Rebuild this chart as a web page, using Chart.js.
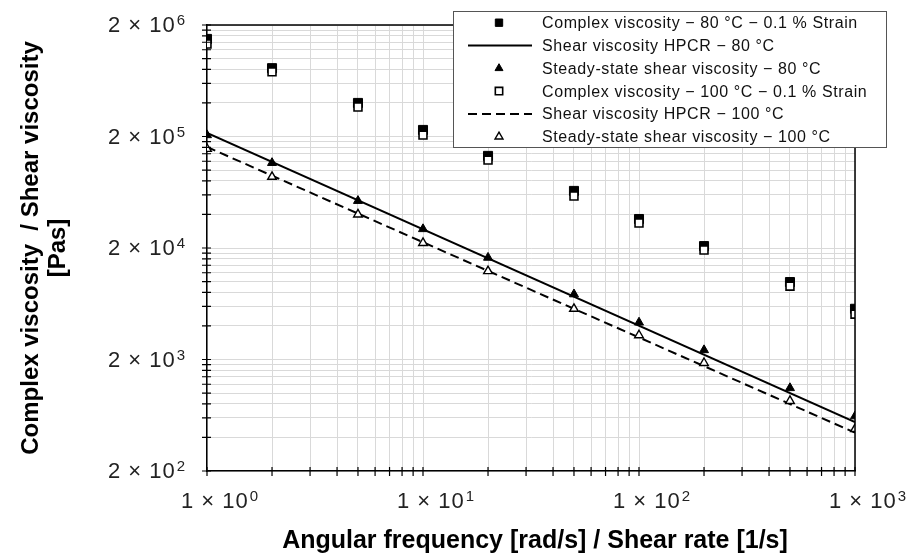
<!DOCTYPE html>
<html><head><meta charset="utf-8">
<script src="https://cdn.jsdelivr.net/npm/chart.js@4/dist/chart.umd.min.js"></script>
<style>html,body{margin:0;padding:0;background:#fff;} #wrap{width:910px;height:554px;position:relative;}</style>
</head><body><div id="wrap"><canvas id="c" width="910" height="554"></canvas></div>
<script>
// ---- data ----
const frequency   = [1, 2, 5, 10, 20, 50, 100, 200, 500, 1000];
const complex80   = [1.50e6, 8.2e5, 4.0e5, 2.29e5, 1.34e5, 6.5e4, 3.64e4, 2.08e4, 9.9e3, 5.7e3];
const complex100  = [1.35e6, 7.6e5, 3.68e5, 2.06e5, 1.23e5, 5.85e4, 3.35e4, 1.92e4, 9.1e3, 5.1e3];
const steady80    = [2.06e5, 1.16e5, 5.3e4, 2.96e4, 1.64e4, 7.7e3, 4.3e3, 2.43e3, 1.11e3, 620];
const steady100   = [1.55e5, 8.7e4, 4.0e4, 2.22e4, 1.24e4, 5.7e3, 3.3e3, 1.86e3, 850, 476];
const hpcrRate    = [1, 1000];
const hpcr80      = [2.15e5, 550];
const hpcr100     = [1.61e5, 441];
const seriesLabels = [
  'Complex viscosity − 80 °C − 0.1 % Strain',
  'Shear viscosity HPCR − 80 °C',
  'Steady-state shear viscosity − 80 °C',
  'Complex viscosity − 100 °C − 0.1 % Strain',
  'Shear viscosity HPCR − 100 °C',
  'Steady-state shear viscosity − 100 °C'
];
const xGridValues = [1,2,3,4,5,6,7,8,9,10,20,30,40,50,60,70,80,90,100,200,300,400,500,600,700,800,900,1000];
const yGridValues = [200,400,600,800,1000,1200,1400,1600,1800,2000,4000,6000,8000,10000,12000,14000,16000,18000,20000,
  40000,60000,80000,100000,120000,140000,160000,180000,200000,400000,600000,800000,1000000,1200000,1400000,1600000,1800000,2000000];
const xMajorTicks = [1, 10, 100, 1000];
const xTickLabels = [['1 × 10', '0'], ['1 × 10', '1'], ['1 × 10', '2'], ['1 × 10', '3']];
const yMajorTicks = [200, 2000, 20000, 200000, 2000000];
const yTickLabels = [['2 × 10', '2'], ['2 × 10', '3'], ['2 × 10', '4'], ['2 × 10', '5'], ['2 × 10', '6']];
const xTitle = 'Angular frequency [rad/s] / Shear rate [1/s]';
const yTitle = ['Complex viscosity  / Shear viscosity', '[Pas]'];

const pts = (xs, ys) => xs.map((x, i) => ({x, y: ys[i]}));
const FONT = '"Liberation Sans", Arial, sans-serif';

const datasets = [
  {label: seriesLabels[0], data: pts(frequency, complex80), showLine: false, pointStyle: 'rect', pointRadius: 6.4,
   backgroundColor: '#000', borderColor: '#000', pointBorderWidth: 1, order: 2},
  {label: seriesLabels[1], data: pts(hpcrRate, hpcr80), showLine: true, pointRadius: 0, borderColor: '#000',
   borderWidth: 2, backgroundColor: '#000', order: 4},
  {label: seriesLabels[2], data: pts(frequency, steady80), showLine: false, pointStyle: 'triangle', pointRadius: 5.2,
   backgroundColor: '#000', borderColor: '#000', pointBorderWidth: 1, order: 3},
  {label: seriesLabels[3], data: pts(frequency, complex100), showLine: false, pointStyle: 'rect', pointRadius: 5.6,
   backgroundColor: '#fff', borderColor: '#000', pointBorderWidth: 1.6, order: 0},
  {label: seriesLabels[4], data: pts(hpcrRate, hpcr100), showLine: true, pointRadius: 0, borderColor: '#000',
   borderWidth: 2, borderDash: [9, 5], backgroundColor: '#000', order: 5},
  {label: seriesLabels[5], data: pts(frequency, steady100), showLine: false, pointStyle: 'triangle', pointRadius: 5,
   backgroundColor: '#fff', borderColor: '#000', pointBorderWidth: 1.4, order: 1}
];

function supLabel(ctx, base, exp, x, baseline, align) {
  ctx.font = '22px ' + FONT;
  ctx.letterSpacing = '1px';
  const bw = ctx.measureText(base).width;
  ctx.font = '15px ' + FONT;
  ctx.letterSpacing = '0px';
  const ew = ctx.measureText(exp).width;
  let left = align === 'right' ? x - bw - ew - 1 : x;
  ctx.textAlign = 'left';
  ctx.textBaseline = 'alphabetic';
  ctx.font = '22px ' + FONT;
  ctx.letterSpacing = '1px';
  ctx.fillText(base, left, baseline);
  ctx.font = '15px ' + FONT;
  ctx.letterSpacing = '0px';
  ctx.fillText(exp, left + bw + 1, baseline - 7);
}

const frame = {
  id: 'frame',
  afterDatasetsDraw(chart) {
    const {ctx, chartArea: a, scales} = chart;
    ctx.save();
    ctx.strokeStyle = '#000';
    ctx.lineWidth = 1.5;
    ctx.beginPath();
    ctx.moveTo(a.left, a.top); ctx.lineTo(a.right, a.top); ctx.lineTo(a.right, a.bottom);
    ctx.stroke();
    ctx.lineWidth = 1.2;
    ctx.beginPath();
    scales.x.ticks.forEach(t => { const p = scales.x.getPixelForValue(t.value); ctx.moveTo(p, a.bottom - 4); ctx.lineTo(p, a.bottom + 5); });
    scales.y.ticks.forEach(t => { const p = scales.y.getPixelForValue(t.value); ctx.moveTo(a.left - 5, p); ctx.lineTo(a.left + 4, p); });
    ctx.stroke();
    // tick labels
    ctx.fillStyle = '#222';
    yMajorTicks.forEach((v, k) => {
      const p = scales.y.getPixelForValue(v);
      supLabel(ctx, yTickLabels[k][0], yTickLabels[k][1], a.left - 22, p + 7, 'right');
    });
    xMajorTicks.forEach((v, k) => {
      const p = scales.x.getPixelForValue(v);
      supLabel(ctx, xTickLabels[k][0], xTickLabels[k][1], p - 26, a.bottom + 37, 'left');
    });
    // axis titles
    ctx.fillStyle = '#000';
    ctx.letterSpacing = '0px';
    ctx.font = 'bold 25px ' + FONT;
    ctx.textAlign = 'center';
    ctx.textBaseline = 'alphabetic';
    ctx.fillText(xTitle, 535, 548);
    ctx.font = 'bold 24px ' + FONT;
    ctx.textBaseline = 'middle';
    ctx.translate(0, 248);
    ctx.rotate(-Math.PI / 2);
    ctx.fillText(yTitle[0], 0, 31);
    ctx.fillText(yTitle[1], 0, 58);
    ctx.restore();
  },
  afterDraw(chart) {
    const {ctx} = chart;
    ctx.save();
    const bx = 453, by = 11, bw = 433, bh = 136;
    ctx.fillStyle = '#fff';
    ctx.fillRect(bx, by, bw, bh);
    ctx.strokeStyle = '#555';
    ctx.lineWidth = 1;
    ctx.strokeRect(bx + 0.5, by + 0.5, bw, bh);
    const rowY0 = 22.7, rowH = 22.8, mx = 499;
    chart.data.datasets.forEach((ds, i) => {
      const y = rowY0 + i * rowH;
      if (ds.showLine) {
        ctx.save();
        ctx.strokeStyle = ds.borderColor; ctx.lineWidth = ds.borderWidth;
        ctx.setLineDash(ds.borderDash || []);
        ctx.beginPath(); ctx.moveTo(468, y); ctx.lineTo(532, y); ctx.stroke();
        ctx.restore();
      } else {
        ctx.save();
        ctx.fillStyle = ds.backgroundColor; ctx.strokeStyle = ds.borderColor; ctx.lineWidth = ds.pointBorderWidth;
        Chart.helpers.drawPoint(ctx, {pointStyle: ds.pointStyle, radius: ds.pointStyle === 'rect' ? 5.2 : 4.6, borderWidth: ds.pointBorderWidth}, mx, y);
        ctx.restore();
      }
      ctx.fillStyle = '#111';
      ctx.font = '16px ' + FONT;
      ctx.letterSpacing = '0.6px';
      ctx.textAlign = 'left';
      ctx.textBaseline = 'middle';
      ctx.fillText(ds.label, 542, y + 1);
    });
    ctx.restore();
  }
};

new Chart(document.getElementById('c'), {
  type: 'scatter',
  data: {datasets},
  options: {
    responsive: false,
    animation: false,
    layout: {padding: {top: 25, right: 55, left: 0, bottom: 0}},
    plugins: {legend: {display: false}, tooltip: {enabled: false}},
    elements: {line: {tension: 0}},
    scales: {
      x: {
        type: 'logarithmic', min: 1, max: 1000,
        afterBuildTicks(s) { s.ticks = xGridValues.map(v => ({value: v, major: xMajorTicks.includes(v)})); },
        afterFit(s) { s.height = 83; },
        ticks: {display: false, autoSkip: false},
        grid: {color: '#d9d9d9', lineWidth: 1, drawTicks: false},
        border: {color: '#000', width: 1.5}
      },
      y: {
        type: 'logarithmic', min: 200, max: 2000000,
        afterBuildTicks(s) { s.ticks = yGridValues.map(v => ({value: v, major: yMajorTicks.includes(v)})); },
        afterFit(s) { s.width = 207; },
        ticks: {display: false, autoSkip: false},
        grid: {color: '#d9d9d9', lineWidth: 1, drawTicks: false},
        border: {color: '#000', width: 1.5}
      }
    }
  },
  plugins: [frame]
});
</script>
</body></html>
